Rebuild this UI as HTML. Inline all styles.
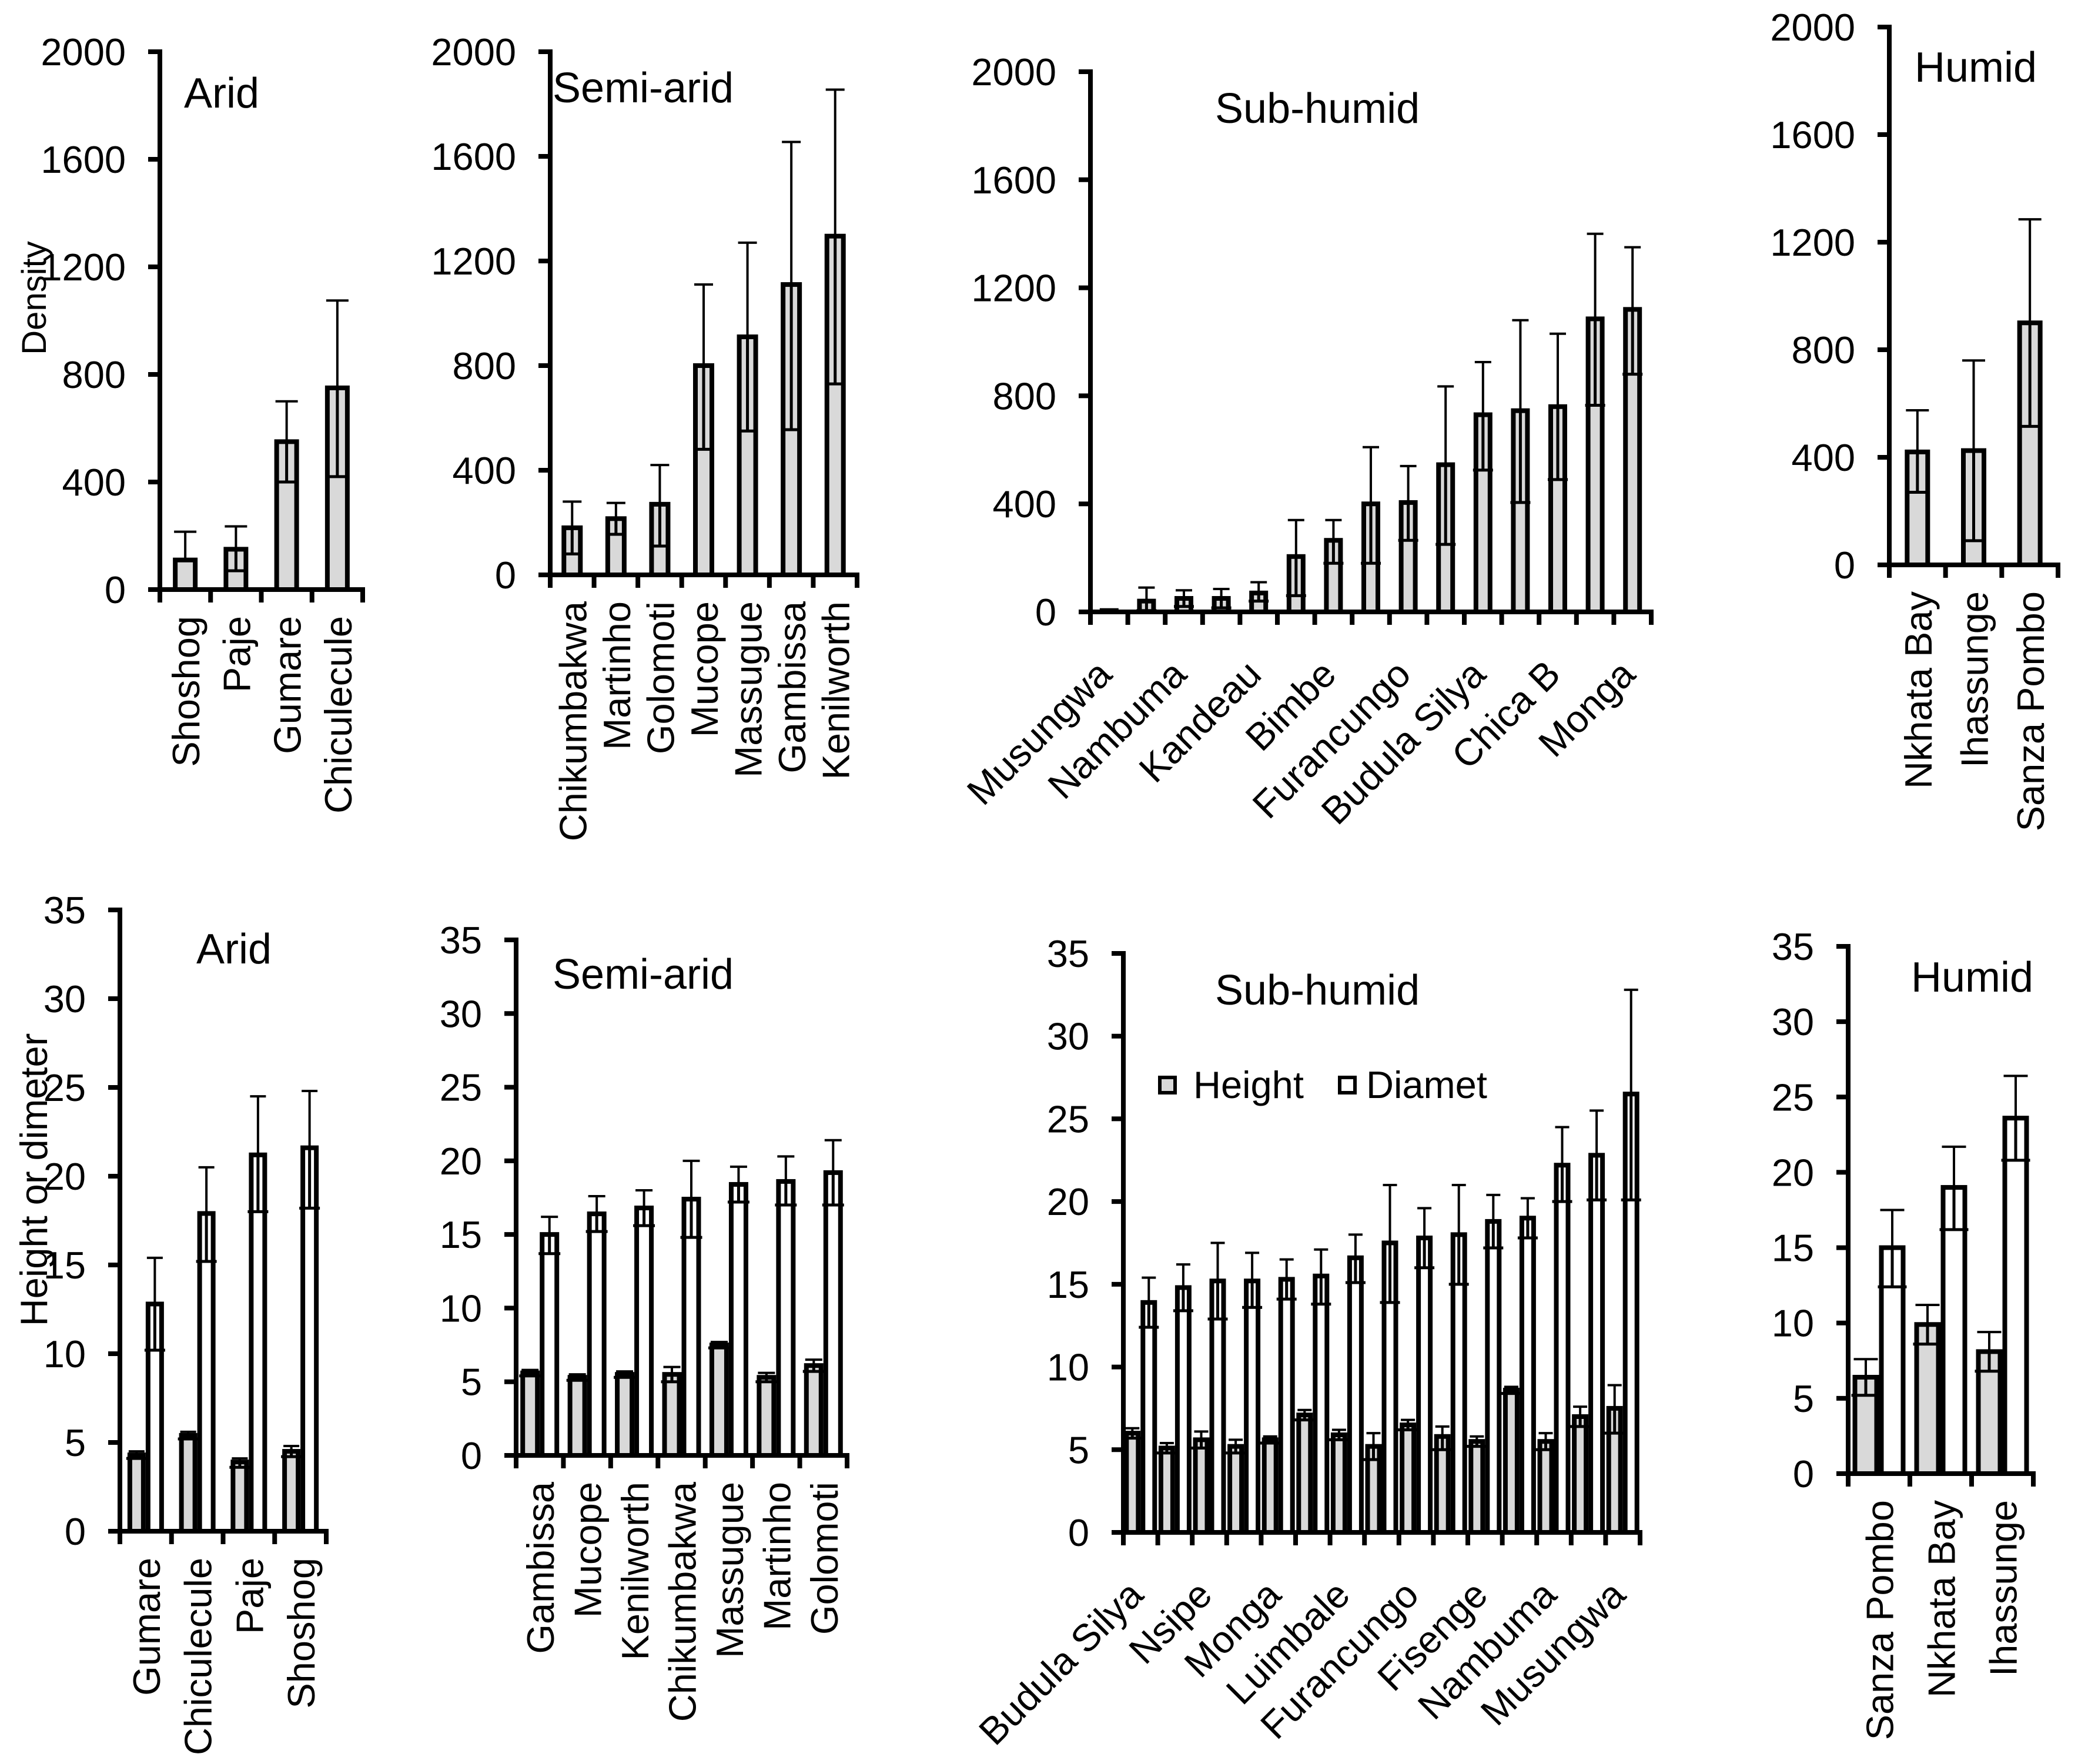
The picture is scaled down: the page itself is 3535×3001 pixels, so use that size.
<!DOCTYPE html>
<html>
<head>
<meta charset="utf-8">
<style>
html,body{margin:0;padding:0;background:#fff;}
svg{display:block;}
text{font-family:"Liberation Sans",Arial,sans-serif;fill:#000;}
</style>
</head>
<body>
<svg id="chart" width="3535" height="3001" viewBox="0 0 3535 3001" xmlns="http://www.w3.org/2000/svg">
<rect x="0" y="0" width="3535" height="3001" fill="#fff"/>
</svg>
<script>
// ---------- Data: density (top row) ----------
const densityTicks = [0, 400, 800, 1200, 1600, 2000];
const aridDenCats = ["Shoshog", "Paje", "Gumare", "Chiculecule"];
const aridDen = [110, 150, 550, 750];
const aridDenHi = [215, 235, 700, 1075];
const aridDenLo = [0, 70, 400, 420];

const semiDenCats = ["Chikumbakwa", "Martinho", "Golomoti", "Mucope", "Massugue", "Gambissa", "Kenilworth"];
const semiDen = [180, 215, 270, 800, 910, 1110, 1295];
const semiDenHi = [280, 275, 420, 1110, 1270, 1655, 1855];
const semiDenLo = [80, 155, 110, 480, 550, 555, 730];

const subDenCats = ["Musungwa", "", "Nambuma", "", "Kandeau", "", "Bimbe", "", "Furancungo", "", "Budula Silya", "", "Chica B", "", "Monga"];
const subDen = [5, 40, 50, 50, 70, 205, 265, 400, 405, 545, 730, 745, 760, 1085, 1120];
const subDenHi = [5, 90, 80, 85, 110, 340, 340, 610, 540, 835, 925, 1080, 1030, 1400, 1350];
const subDenLo = [0, 5, 20, 15, 40, 60, 180, 180, 265, 250, 525, 405, 490, 765, 880];

const humDenCats = ["Nkhata Bay", "Ihassunge", "Sanza Pombo"];
const humDen = [420, 425, 900];
const humDenHi = [575, 760, 1285];
const humDenLo = [270, 90, 515];

// ---------- Data: height / diameter (bottom row) ----------
const sizeTicks = [0, 5, 10, 15, 20, 25, 30, 35];
const aridSizeCats = ["Gumare", "Chiculecule", "Paje", "Shoshog"];
const aridH = [4.3, 5.4, 3.9, 4.5];
const aridHHi = [4.5, 5.6, 4.1, 4.8];
const aridHLo = [4.1, 5.2, 3.6, 4.2];
const aridD = [12.8, 17.9, 21.2, 21.6];
const aridDHi = [15.4, 20.5, 24.5, 24.8];
const aridDLo = [10.2, 15.2, 18.0, 18.2];

const semiSizeCats = ["Gambissa", "Mucope", "Kenilworth", "Chikumbakwa", "Massugue", "Martinho", "Golomoti"];
const semiH = [5.6, 5.3, 5.5, 5.5, 7.5, 5.3, 6.1];
const semiHHi = [5.8, 5.5, 5.7, 6.0, 7.7, 5.6, 6.5];
const semiHLo = [5.4, 5.1, 5.3, 5.0, 7.3, 5.0, 5.7];
const semiD = [15.0, 16.4, 16.8, 17.4, 18.4, 18.6, 19.2];
const semiDHi = [16.2, 17.6, 18.0, 20.0, 19.6, 20.3, 21.4];
const semiDLo = [13.7, 15.2, 15.6, 14.8, 17.2, 17.0, 17.0];

const subSizeCats = ["Budula Silya", "", "Nsipe", "", "Monga", "", "Luimbale", "", "Furancungo", "", "Fisenge", "", "Nambuma", "", "Musungwa"];
const subH = [6.0, 5.1, 5.6, 5.2, 5.6, 7.1, 5.9, 5.2, 6.5, 5.8, 5.5, 8.6, 5.5, 7.0, 7.5];
const subHHi = [6.3, 5.4, 6.1, 5.6, 5.8, 7.4, 6.2, 6.0, 6.8, 6.4, 5.8, 8.8, 6.0, 7.6, 8.9];
const subHLo = [5.7, 4.8, 5.1, 4.8, 5.4, 6.8, 5.6, 4.4, 6.2, 5.0, 5.2, 8.4, 5.0, 6.4, 6.0];
const subD = [13.9, 14.8, 15.2, 15.2, 15.3, 15.5, 16.6, 17.5, 17.8, 18.0, 18.8, 19.0, 22.2, 22.8, 26.5];
const subDHi = [15.4, 16.2, 17.5, 16.9, 16.5, 17.1, 18.0, 21.0, 19.6, 21.0, 20.4, 20.2, 24.5, 25.5, 32.8];
const subDLo = [12.4, 13.4, 12.9, 13.6, 14.1, 13.8, 15.1, 13.9, 16.0, 15.0, 17.2, 17.8, 20.0, 20.1, 20.1];

const humSizeCats = ["Sanza Pombo", "Nkhata Bay", "Ihassunge"];
const humH = [6.4, 9.9, 8.1];
const humHHi = [7.6, 11.2, 9.4];
const humHLo = [5.2, 8.6, 6.8];
const humD = [15.0, 19.0, 23.6];
const humDHi = [17.5, 21.7, 26.4];
const humDLo = [12.4, 16.2, 20.8];

const svg = document.getElementById('chart');
const NS = 'http://www.w3.org/2000/svg';
const FS = 65;
function mk(tag, attrs, parent) {
  const e = document.createElementNS(NS, tag);
  for (const k in attrs) e.setAttribute(k, attrs[k]);
  (parent || svg).appendChild(e);
  return e;
}

function drawPanel(cfg, cats, series) {
  const g = mk('g', {});
  
  
  const n = cats.length;
  const step = (cfg.xEnd - cfg.ax) / n;
  const yS = v => cfg.y0 - v / cfg.max * (cfg.y0 - cfg.yTop);
  const xC = i => cfg.ax + step * (i + 0.5);

  const ns = series.length;
  series.forEach((s, si) => {
    s.vals.forEach((v, i) => {
      const left = xC(i) - cfg.bw * ns / 2 + cfg.bw * si;
      const top = yS(v);
      const r = mk('rect', {x: left + 4, y: top, width: cfg.bw - 8, height: Math.max(0, cfg.y0 - top), fill: s.fill, stroke: '#000', 'stroke-width': 8}, g);
      
      
      const cx = left + cfg.bw / 2;
      const half = (cfg.bw - 8) / 2 + 2;
      const hi = s.hi[i], lo = s.lo[i];
      if (hi > v) {
        const eb = mk('path', {d: `M${cx},${top} V${yS(hi)} M${cx - half},${yS(hi)} H${cx + half}`, stroke: '#000', 'stroke-width': 4, fill: 'none'}, g);
        
        
      }
      if (lo > 0 && lo < v) {
        const lh = half + cfg.lowExtra;
        const el = mk('path', {d: `M${cx},${top} V${yS(lo)} M${cx - lh},${yS(lo)} H${cx + lh}`, stroke: '#000', 'stroke-width': 5, fill: 'none'}, g);
        
        
      }
    });
  });

  const ya = mk('line', {x1: cfg.ax, y1: cfg.yTop - 4, x2: cfg.ax, y2: cfg.y0 + 4, stroke: '#000', 'stroke-width': 8}, g);
  
  
  const xa = mk('line', {x1: cfg.ax - 20, y1: cfg.y0, x2: cfg.xEnd + 4, y2: cfg.y0, stroke: '#000', 'stroke-width': 8}, g);
  
  
  cfg.ticks.forEach(t => {
    const y = yS(t);
    mk('line', {x1: cfg.ax - 20, y1: y, x2: cfg.ax, y2: y, stroke: '#000', 'stroke-width': 8}, g);
    const tl = mk('text', {x: cfg.ax - 58, y: y + 23, 'font-size': FS, 'text-anchor': 'end'}, g);
    tl.textContent = t;
    
    
  });
  for (let i = 0; i <= n; i++) {
    const x = cfg.ax + step * i;
    mk('line', {x1: x, y1: cfg.y0, x2: x, y2: cfg.y0 + 22, stroke: '#000', 'stroke-width': 8}, g);
  }
  cats.forEach((c, i) => {
    if (!c) return;
    let t;
    if (cfg.diag) {
      t = mk('text', {'font-size': FS, 'text-anchor': 'end', transform: `translate(${xC(i) + 8},${cfg.y0 + 110}) rotate(-45)`}, g);
    } else {
      t = mk('text', {'font-size': FS, 'text-anchor': 'end', transform: `translate(${xC(i) + 24},${cfg.y0 + 45}) rotate(-90)`}, g);
    }
    t.textContent = c;
    
    
  });
  const tt = mk('text', {x: cfg.tx, y: cfg.ty, 'font-size': 72}, g);
  tt.textContent = cfg.title;
  
  
}

const GRAY = '#d9d9d9', WHITE = '#ffffff';

drawPanel({name: 'arid-density-panel', title: 'Arid', tx: 313, ty: 183, ax: 272, y0: 1003, yTop: 88, xEnd: 617, max: 2000, ticks: densityTicks, bw: 42, lowExtra: 0},
  aridDenCats, [{key: 'density', fill: GRAY, vals: aridDen, hi: aridDenHi, lo: aridDenLo}]);
drawPanel({name: 'semi-arid-density-panel', title: 'Semi-arid', tx: 940, ty: 174, ax: 936, y0: 978, yTop: 88, xEnd: 1458, max: 2000, ticks: densityTicks, bw: 36, lowExtra: 0},
  semiDenCats, [{key: 'density', fill: GRAY, vals: semiDen, hi: semiDenHi, lo: semiDenLo}]);
drawPanel({name: 'sub-humid-density-panel', title: 'Sub-humid', tx: 2067, ty: 209, ax: 1855, y0: 1041, yTop: 122, xEnd: 2809, max: 2000, ticks: densityTicks, bw: 32, diag: true, lowExtra: 3},
  subDenCats, [{key: 'density', fill: GRAY, vals: subDen, hi: subDenHi, lo: subDenLo}]);
drawPanel({name: 'humid-density-panel', title: 'Humid', tx: 3257, ty: 139, ax: 3214, y0: 961, yTop: 46, xEnd: 3501, max: 2000, ticks: densityTicks, bw: 43, lowExtra: 0},
  humDenCats, [{key: 'density', fill: GRAY, vals: humDen, hi: humDenHi, lo: humDenLo}]);

drawPanel({name: 'arid-size-panel', title: 'Arid', tx: 334, ty: 1639, ax: 204, y0: 2605, yTop: 1548, xEnd: 555, max: 35, ticks: sizeTicks, bw: 31, lowExtra: 4},
  aridSizeCats, [{key: 'height', fill: GRAY, vals: aridH, hi: aridHHi, lo: aridHLo}, {key: 'diameter', fill: WHITE, vals: aridD, hi: aridDHi, lo: aridDLo}]);
drawPanel({name: 'semi-arid-size-panel', title: 'Semi-arid', tx: 940, ty: 1682, ax: 878, y0: 2476, yTop: 1599, xEnd: 1441, max: 35, ticks: sizeTicks, bw: 33, lowExtra: 4},
  semiSizeCats, [{key: 'height', fill: GRAY, vals: semiH, hi: semiHHi, lo: semiHLo}, {key: 'diameter', fill: WHITE, vals: semiD, hi: semiDHi, lo: semiDLo}]);
drawPanel({name: 'sub-humid-size-panel', title: 'Sub-humid', tx: 2067, ty: 1709, ax: 1911, y0: 2607, yTop: 1622, xEnd: 2790, max: 35, ticks: sizeTicks, bw: 28, diag: true, lowExtra: 5},
  subSizeCats, [{key: 'height', fill: GRAY, vals: subH, hi: subHHi, lo: subHLo}, {key: 'diameter', fill: WHITE, vals: subD, hi: subDHi, lo: subDLo}]);
drawPanel({name: 'humid-size-panel', title: 'Humid', tx: 3251, ty: 1687, ax: 3144, y0: 2507, yTop: 1610, xEnd: 3459, max: 35, ticks: sizeTicks, bw: 45, lowExtra: 4},
  humSizeCats, [{key: 'height', fill: GRAY, vals: humH, hi: humHHi, lo: humHLo}, {key: 'diameter', fill: WHITE, vals: humD, hi: humDHi, lo: humDLo}]);

const yl1 = mk('text', {'font-size': 58, 'text-anchor': 'middle', transform: 'translate(78,507) rotate(-90)'});
yl1.textContent = 'Density';


const yl2 = mk('text', {'font-size': 65, 'text-anchor': 'middle', transform: 'translate(80,2007) rotate(-90)'});
yl2.textContent = 'Height or dimeter';



const lg = mk('g', {});


const l1 = mk('rect', {x: 1973, y: 1833, width: 26, height: 26, fill: GRAY, stroke: '#000', 'stroke-width': 6}, lg);


const lt1 = mk('text', {x: 2030, y: 1868, 'font-size': 65}, lg);
lt1.textContent = 'Height';


const l2 = mk('rect', {x: 2279, y: 1833, width: 26, height: 26, fill: WHITE, stroke: '#000', 'stroke-width': 6}, lg);


const lt2 = mk('text', {x: 2324, y: 1868, 'font-size': 65}, lg);
lt2.textContent = 'Diamet';


</script>
</body>
</html>
